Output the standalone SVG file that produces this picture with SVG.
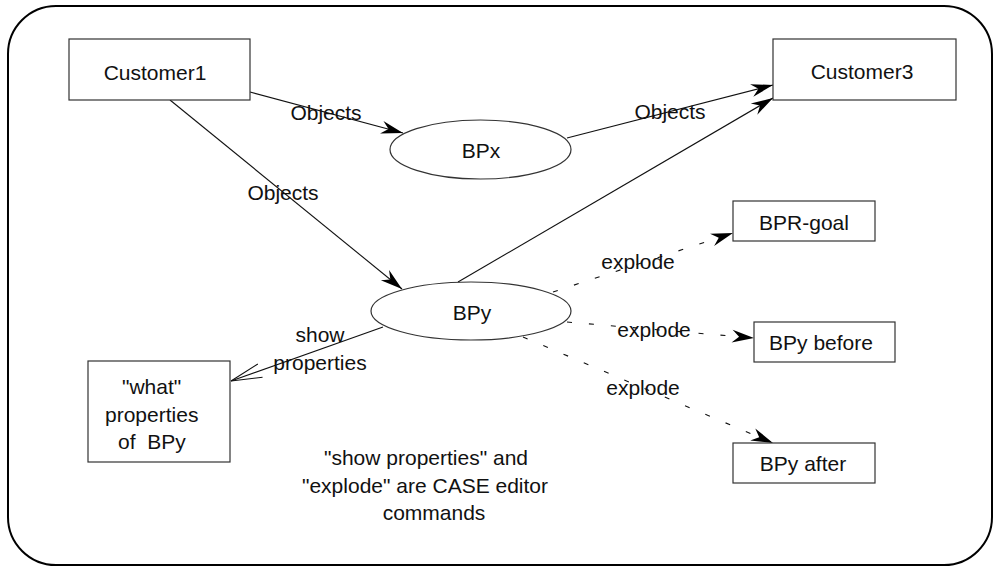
<svg xmlns="http://www.w3.org/2000/svg" width="994" height="567" viewBox="0 0 994 567">
<style>
text{font-family:"Liberation Sans",Arial,sans-serif;font-size:21px;fill:#111}
.c{text-anchor:middle}
.box{fill:#fff;stroke:#333;stroke-width:1.2}
.ln{stroke:#111;stroke-width:1.1;fill:none}
.dash{stroke:#111;stroke-width:1.1;fill:none;stroke-dasharray:5 17}
</style>
<defs>
<marker id="ah" markerUnits="userSpaceOnUse" viewBox="-23 -8 24 16" refX="0" refY="0" markerWidth="24" markerHeight="16" orient="auto">
<path d="M0,0 L-22,-6.5 L-15,0 L-22,6.5 Z" fill="#000"/>
</marker>
<marker id="open" markerUnits="userSpaceOnUse" viewBox="-33 -9 34 18" refX="0" refY="0" markerWidth="34" markerHeight="18" orient="auto">
<path d="M-31,-7 L0,0 L-31,7" fill="none" stroke="#111" stroke-width="1.1"/>
</marker>
</defs>
<rect x="8" y="6" width="984" height="559" rx="48" ry="48" fill="#fff" stroke="#000" stroke-width="2"/>
<g id="connectors">
<line class="ln" x1="250" y1="92" x2="403" y2="133" marker-end="url(#ah)"/>
<line class="ln" x1="170" y1="100" x2="402" y2="289" marker-end="url(#ah)"/>
<line class="ln" x1="567" y1="138" x2="773" y2="85" marker-end="url(#ah)"/>
<line class="ln" x1="458" y1="282" x2="773" y2="98" marker-end="url(#ah)"/>
<line class="ln" x1="383" y1="327" x2="231" y2="381" marker-end="url(#open)"/>
<line class="dash" x1="553" y1="292" x2="733" y2="233" marker-end="url(#ah)"/>
<line class="dash" x1="567" y1="322" x2="754" y2="338" marker-end="url(#ah)"/>
<line class="dash" x1="523" y1="337" x2="773" y2="443" marker-end="url(#ah)"/>
<text class="c" x="326" y="120">Objects</text>
<text class="c" x="283" y="200">Objects</text>
<text class="c" x="670" y="119">Objects</text>
<text class="c" x="320" y="342">show</text>
<text class="c" x="320" y="370">properties</text>
<text class="c" x="638" y="269">explode</text>
<text class="c" x="654" y="337">explode</text>
<text class="c" x="643" y="395">explode</text>
</g>
<g id="customer1">
<rect class="box" x="69" y="39" width="181" height="61"/>
<text class="c" x="155" y="80">Customer1</text>
</g>
<g id="customer3">
<rect class="box" x="773" y="39" width="183" height="61"/>
<text class="c" x="862" y="79">Customer3</text>
</g>
<g id="bpx">
<ellipse class="box" cx="480.5" cy="149.5" rx="90.5" ry="29.5"/>
<text class="c" x="481" y="158">BPx</text>
</g>
<g id="bpy">
<ellipse class="box" cx="471" cy="311" rx="100" ry="29"/>
<text class="c" x="472" y="320">BPy</text>
</g>
<g id="bpr-goal">
<rect class="box" x="733" y="201" width="142" height="40"/>
<text class="c" x="804" y="230">BPR-goal</text>
</g>
<g id="bpy-before">
<rect class="box" x="754" y="322" width="141" height="40"/>
<text class="c" x="821" y="350">BPy before</text>
</g>
<g id="bpy-after">
<rect class="box" x="733" y="443" width="142" height="40"/>
<text class="c" x="803" y="471">BPy after</text>
</g>
<g id="what-properties">
<rect class="box" x="88" y="361" width="142" height="101"/>
<text x="122" y="394">"what"</text>
<text x="105" y="422">properties</text>
<text x="118" y="449" xml:space="preserve" style="white-space:pre">of  BPy</text>
</g>
<g id="note">
<text class="c" x="426" y="465">"show properties" and</text>
<text class="c" x="425" y="493">"explode" are CASE editor</text>
<text class="c" x="434" y="520">commands</text>
</g>
</svg>
